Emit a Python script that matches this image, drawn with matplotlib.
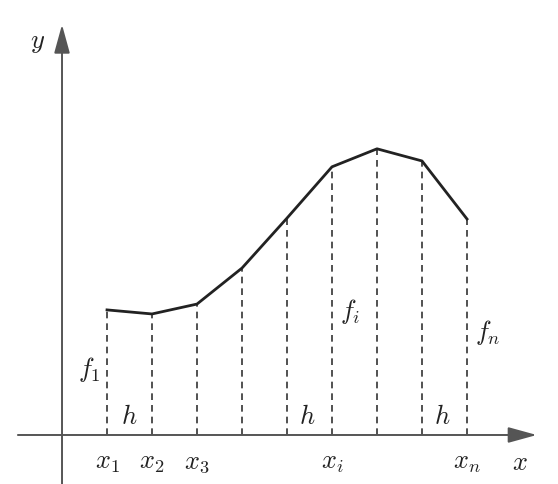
import matplotlib
matplotlib.use("Agg")
import matplotlib.pyplot as plt

plt.rcParams['mathtext.fontset'] = 'cm'
plt.rcParams['font.family'] = 'serif'
plt.rcParams['font.serif'] = ['DejaVu Serif']

# Node positions (in units of step h) and function values
xs = [1, 2, 3, 4, 5, 6, 7, 8, 9]
fs = [2.78, 2.69, 2.91, 3.71, 4.82, 5.96, 6.36, 6.09, 4.80]
tick_labels = {1: r'$x_1$', 2: r'$x_2$', 3: r'$x_3$', 6: r'$x_i$', 9: r'$x_n$'}

fig = plt.figure(figsize=(5.58, 4.84), dpi=100)
ax = fig.add_axes([0, 0, 1, 1])
ax.set_xlim(-1.378, 11.022)
ax.set_ylim(-1.089, 9.667)
ax.axis('off')

axis_col = '#555555'
astyle = '-|>,head_length=0.8,head_width=0.22'
# x axis
ax.annotate('', xy=(10.55, 0), xytext=(-0.98, 0),
            arrowprops=dict(arrowstyle=astyle, mutation_scale=22, lw=1.4,
                            color=axis_col, shrinkA=0, shrinkB=0))
# y axis
ax.annotate('', xy=(0, 9.12), xytext=(0, -1.1),
            arrowprops=dict(arrowstyle=astyle, mutation_scale=22, lw=1.4,
                            color=axis_col, shrinkA=0, shrinkB=0))

# dashed ordinates
for x, f in zip(xs, fs):
    ax.plot([x, x], [0, f], ls=(0, (4, 3)), color='#333333', lw=1.2)

# curve
ax.plot(xs, fs, color='#222222', lw=2.0, solid_joinstyle='round')

fs_txt = 19
for k, lab in tick_labels.items():
    ax.text(k, -0.62, lab, ha='center', va='center', fontsize=fs_txt, color='#222222')
ax.text(10.18, -0.62, r'$x$', ha='center', va='center', fontsize=fs_txt, color='#222222')
ax.text(-0.55, 8.72, r'$y$', ha='center', va='center', fontsize=fs_txt, color='#222222')

ax.text(0.6, 1.45, r'$f_1$', ha='center', va='center', fontsize=fs_txt, color='#222222')
ax.text(6.4, 2.75, r'$f_i$', ha='center', va='center', fontsize=fs_txt, color='#222222')
ax.text(9.47, 2.27, r'$f_n$', ha='center', va='center', fontsize=fs_txt, color='#222222')

for hx in [1.5, 5.45, 8.45]:
    ax.text(hx, 0.4, r'$h$', ha='center', va='center', fontsize=fs_txt, color='#222222')

fig.savefig('out.png', dpi=100)
